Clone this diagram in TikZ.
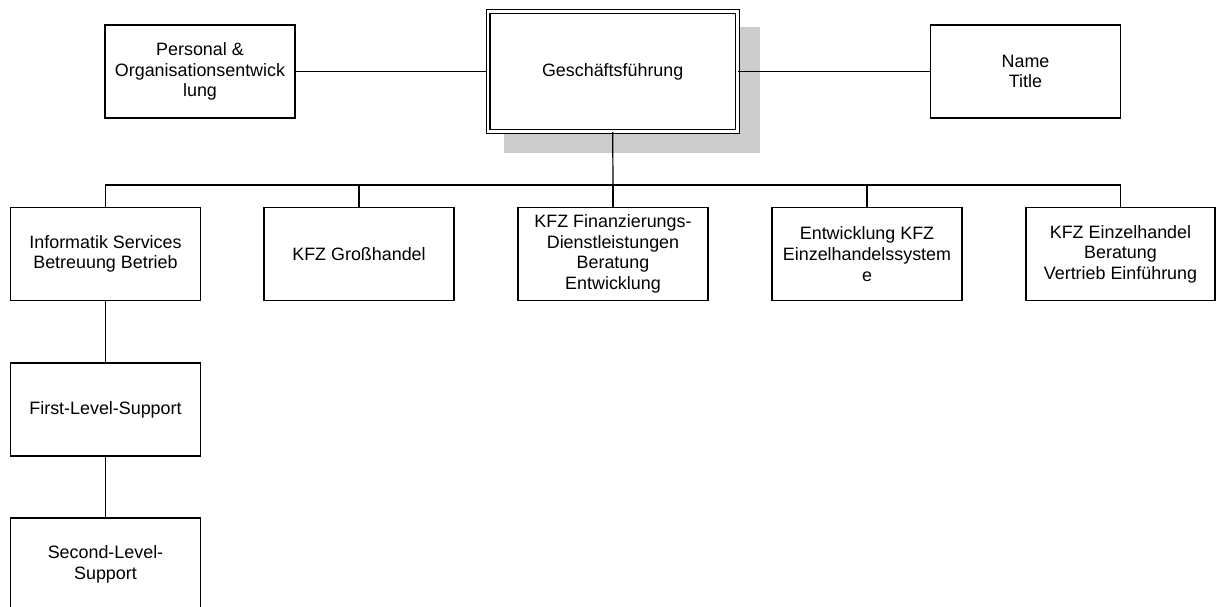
\documentclass[tikz,border=0pt]{standalone}
\usepackage{fontspec}
\setmainfont{Liberation Sans}
\begin{document}
\begin{tikzpicture}[x=1pt,y=-1pt,
  every node/.style={font=\fontsize{17.9}{20.6}\selectfont},
  orgbox/.style={draw=black, line width=1.2pt, fill=white, inner sep=0pt, align=center,
    minimum width=190pt, minimum height=93pt},
  link/.style={draw=black, line width=1.2pt}]
\useasboundingbox (0,0) rectangle (1216,606);
% shadow of the top box
\fill[black!20] (504,27) rectangle (760,153);
\node[draw=black, double=white, double distance=2.7pt, line width=1.2pt, fill=white,
  inner sep=0pt, minimum width=249.3pt, minimum height=120pt, align=center]
  (gf) at (612.7,71.5) {Geschäftsführung};
\node[orgbox] (pers) at (200,71.5) {Personal \&\\Organisationsentwick\\lung};
\node[orgbox] (name) at (1025.5,71.5) {Name\\Title};
\node[orgbox] (c1) at (105.5,254) {Informatik Services\\Betreuung Betrieb};
\node[orgbox] (c2) at (359,254) {KFZ Großhandel};
\node[orgbox] (c3) at (613,254) {KFZ Finanzierungs-\\Dienstleistungen\\Beratung\\Entwicklung};
\node[orgbox] (c4) at (867,254) {Entwicklung KFZ\\Einzelhandelssystem\\e};
\node[orgbox, minimum width=189pt] (c5) at (1120.5,254) {KFZ Einzelhandel\\Beratung\\Vertrieb Einführung};
\node[orgbox] (s1) at (105.5,409.5) {First-Level-Support};
\node[orgbox] (s2) at (105.5,564.5) {Second-Level-\\Support};
\coordinate (bus) at (613,185);
\path[link] (pers.east) -- (gf.west);
\path[link] (gf.east) -- (name.west);
\path[link] (gf.south) -- (bus);
\path[link] (c1.north) |- (bus) -| (c5.north);
\path[link] (c2.north) -- (c2.north |- bus);
\path[link] (c3.north) -- (c3.north |- bus);
\path[link] (c4.north) -- (c4.north |- bus);
\path[link] (c1.south) -- (s1.north);
\path[link] (s1.south) -- (s2.north);
\end{tikzpicture}
\end{document}
